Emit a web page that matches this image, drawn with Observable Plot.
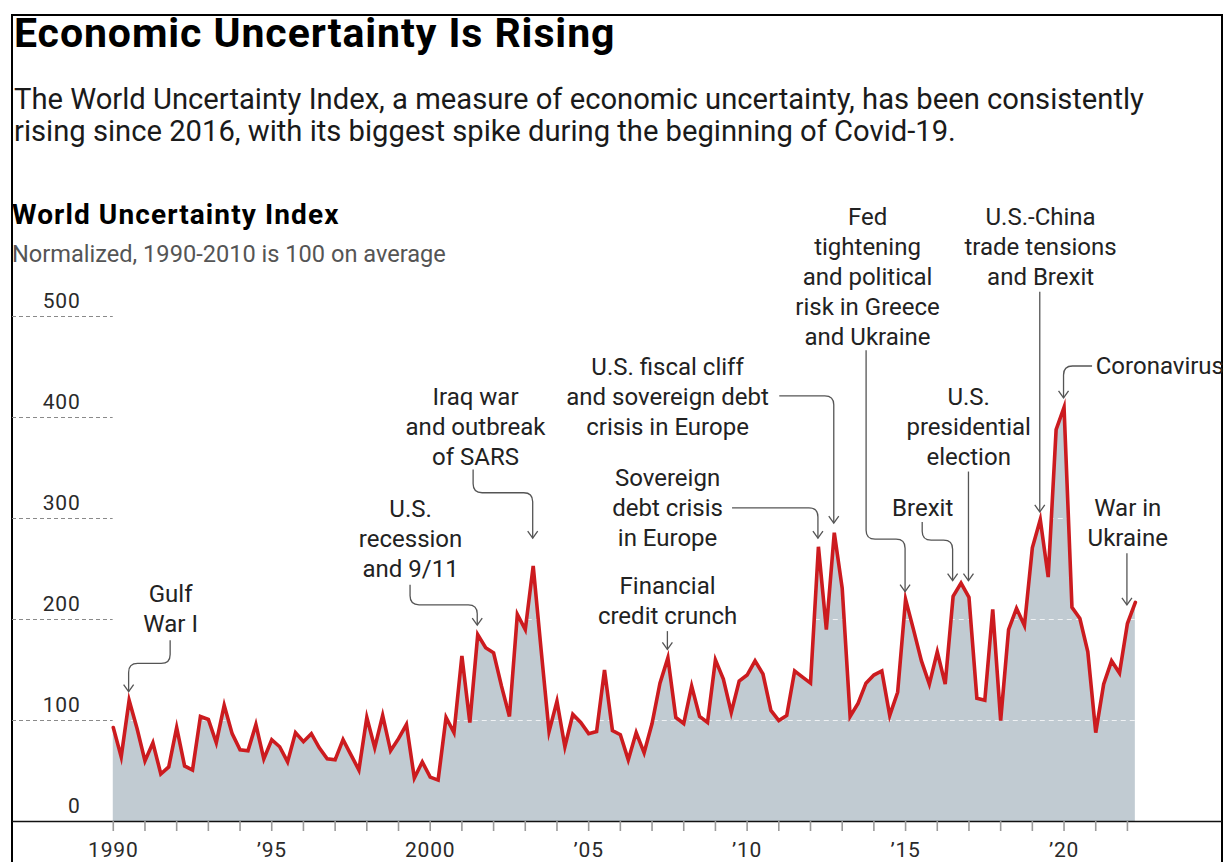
<!DOCTYPE html>
<html>
<head>
<meta charset="utf-8">
<script src="https://cdn.jsdelivr.net/npm/d3@7"></script>
<script src="https://cdn.jsdelivr.net/npm/@observablehq/plot@0.6"></script>
<style>
  html, body { margin: 0; padding: 0; background: #fff; }
  body { width: 1231px; height: 862px; position: relative; overflow: hidden; font-family: "Roboto", sans-serif; color: #111; }
  #frame { position: absolute; left: 11px; top: 14px; width: 1212px; height: 900px; box-sizing: border-box;
           border: 2px solid #000; border-bottom: none; }
  .abs { position: absolute; white-space: nowrap; }
  #title { left: 14px; top: 13px; font-size: 41px; line-height: 40px; font-weight: 700; color: #000; letter-spacing: 0.92px; }
  #subtitle { left: 14px; top: 83px; font-size: 29.2px; line-height: 32px; color: #1a1a1a; }
  #ctitle { left: 12px; top: 200px; font-size: 28px; line-height: 30px; font-weight: 700; color: #000; letter-spacing: 1.1px; z-index: 2; }
  #csub { left: 12px; top: 240px; font-size: 23.6px; line-height: 28px; color: #555; z-index: 2; }
  #chart { position: absolute; left: 0; top: 190px; z-index: 1; }
  #chart svg g[aria-label="y-axis tick label"] text,
  #chart svg g[aria-label="x-axis tick label"] text { letter-spacing: 0.8px; }
</style>
</head>
<body>
<div id="frame"></div>
<div id="title" class="abs">Economic Uncertainty Is Rising</div>
<div id="subtitle" class="abs">The World Uncertainty Index, a measure of economic uncertainty, has been consistently<br>rising since 2016, with its biggest spike during the beginning of Covid-19.</div>
<div id="chart"></div>
<div id="ctitle" class="abs">World Uncertainty Index</div>
<div id="csub" class="abs">Normalized, 1990-2010 is 100 on average</div>
<script>
// Quarterly World Uncertainty Index, 1990 Q1 – 2022 Q2
const startYear = 1990;
const values = [
  93, 64, 120, 92,    // 1990
  60, 78, 47, 54,     // 1991
  93, 55, 51, 104,    // 1992
  101, 78, 115, 87,   // 1993
  71, 70, 96, 62,     // 1994
  81, 74, 59, 88,     // 1995
  79, 87, 73, 62,     // 1996
  61, 81, 66, 51,     // 1997
  103, 73, 105, 70,   // 1998
  82, 96, 43, 59,     // 1999
  44, 41, 103, 88,    // 2000
  164, 98, 185, 172,  // 2001
  167, 134, 104, 205, // 2002
  190, 253, 170, 89,  // 2003
  119, 74, 106, 98,   // 2004
  87, 89, 150, 90,    // 2005
  86, 61, 88, 68,     // 2006
  97, 137, 162, 103,  // 2007
  97, 134, 104, 98,   // 2008
  160, 141, 108, 139, // 2009
  145, 159, 146, 110, // 2010
  100, 105, 149, 143, // 2011
  137, 272, 190, 286, // 2012
  231, 104, 117, 137, // 2013
  145, 149, 105, 128, // 2014
  220, 190, 159, 136, // 2015
  168, 136, 223, 236, // 2016
  222, 122, 120, 210, // 2017
  100, 190, 211, 194, // 2018
  271, 299, 242, 388, // 2019
  410, 212, 201, 168, // 2020
  88, 136, 159, 147,  // 2021
  196, 217            // 2022
];

const yTicks = [0, 100, 200, 300, 400, 500];
const outerGrid = [100, 200, 300, 400, 500];
const innerGrid = [100, 200, 300, 400];
const tickYears = d3.range(1990, 2023);
const labelYears = [1990, 1995, 2000, 2005, 2010, 2015, 2020];
const yearLabel = y => (y % 100 === 0 || y === 1990) ? String(y) : "\u2019" + String(y).slice(2);

const annotations = [
  {x: 1991.81, y: 212, text: "Gulf\nWar I"},
  {x: 1999.38, y: 281, text: "U.S.\nrecession\nand 9/11"},
  {x: 2001.43, y: 392, text: "Iraq war\nand outbreak\nof SARS"},
  {x: 2007.49, y: 422, text: "U.S. fiscal cliff\nand sovereign debt\ncrisis in Europe"},
  {x: 2007.49, y: 312, text: "Sovereign\ndebt crisis\nin Europe"},
  {x: 2007.49, y: 220, text: "Financial\ncredit crunch"},
  {x: 2013.80, y: 541, text: "Fed\ntightening\nand political\nrisk in Greece\nand Ukraine"},
  {x: 2019.26, y: 570, text: "U.S.-China\ntrade tensions\nand Brexit"},
  {x: 2016.99, y: 392, text: "U.S.\npresidential\nelection"},
  {x: 2015.54, y: 312, text: "Brexit"},
  {x: 2022.01, y: 297, text: "War in\nUkraine"}
];
const startAnnotations = [
  {x: 2021.0, y: 451, text: "Coronavirus"}
];

// leader lines: [year, index value] waypoints, last point is arrow tip
const leaderPaths = [
  [[1991.81, 179], [1991.81, 156], [1990.5, 156], [1990.5, 128]],
  [[1999.38, 234], [1999.38, 214], [2001.5, 214], [2001.5, 194]],
  [[2001.37, 348], [2001.37, 325], [2003.25, 325], [2003.25, 280]],
  [[2011.03, 421], [2012.75, 421], [2012.75, 295]],
  [[2009.54, 310], [2012.25, 310], [2012.25, 280]],
  [[2007.5, 188], [2007.5, 170]],
  [[2013.77, 466], [2013.77, 279], [2015.0, 279], [2015.0, 227]],
  [[2019.25, 524], [2019.25, 306]],
  [[2020.9, 450.5], [2020.0, 450.5], [2020.0, 419]],
  [[2017.0, 346], [2017.0, 238]],
  [[2015.54, 296], [2015.54, 278], [2016.5, 278], [2016.5, 238]],
  [[2022.0, 265], [2022.0, 214]]
];

const data = values.map((v, i) => ({t: startYear + i / 4, v}));
const lastT = data[data.length - 1].t;
const xMin = 1986.82, xMax = 2025.0;

function leaderMark(index, scales) {
  const ns = "http://www.w3.org/2000/svg";
  const g = document.createElementNS(ns, "g");
  g.setAttribute("fill", "none");
  g.setAttribute("stroke", "#555");
  g.setAttribute("stroke-width", "1.3");
  const r = 9;
  for (const pts of leaderPaths) {
    const p = pts.map(([a, b]) => [scales.x(a), scales.y(b)]);
    let d = `M${p[0][0]},${p[0][1]}`;
    for (let i = 1; i < p.length - 1; i++) {
      const [x0, y0] = p[i - 1], [x1, y1] = p[i], [x2, y2] = p[i + 1];
      const l1 = Math.hypot(x1 - x0, y1 - y0), l2 = Math.hypot(x2 - x1, y2 - y1);
      const rr = Math.min(r, l1 / 2, l2 / 2);
      const ax = x1 - (x1 - x0) / l1 * rr, ay = y1 - (y1 - y0) / l1 * rr;
      const bx = x1 + (x2 - x1) / l2 * rr, by = y1 + (y2 - y1) / l2 * rr;
      d += `L${ax},${ay}Q${x1},${y1} ${bx},${by}`;
    }
    const [ex, ey] = p[p.length - 1];
    d += `L${ex},${ey}`;
    const path = document.createElementNS(ns, "path");
    path.setAttribute("d", d);
    g.appendChild(path);
    const [px, py] = p[p.length - 2];
    const len = Math.hypot(ex - px, ey - py);
    const ux = (ex - px) / len, uy = (ey - py) / len;
    const hl = 7, hw = 5;
    const head = document.createElementNS(ns, "path");
    head.setAttribute("d",
      `M${ex - ux * hl - uy * hw},${ey - uy * hl + ux * hw}L${ex},${ey}L${ex - ux * hl + uy * hw},${ey - uy * hl - ux * hw}`);
    g.appendChild(head);
  }
  return g;
}

const chart = Plot.plot({
  width: 1231,
  height: 672,
  marginLeft: 12,
  marginRight: 9,
  marginTop: 126,
  marginBottom: 41,
  x: {domain: [xMin, xMax], axis: null},
  y: {domain: [0, 500], axis: null},
  style: {fontFamily: "Roboto, sans-serif", fontSize: "21px", background: "transparent", overflow: "visible"},
  marks: [
    Plot.ruleY(outerGrid, {x1: xMin, x2: startYear, stroke: "#8a8a8a", strokeWidth: 1, strokeDasharray: "4,3"}),
    Plot.areaY(data, {x: "t", y: "v", fill: "#c1cbd2"}),
    Plot.ruleY(innerGrid, {x1: startYear, x2: lastT, stroke: "#ffffff", strokeOpacity: 0.75, strokeWidth: 1, strokeDasharray: "5,4"}),
    Plot.lineY(data, {x: "t", y: "v", stroke: "#cc1b1f", strokeWidth: 3.6, strokeLinejoin: "miter", strokeMiterlimit: 6}),
    Plot.ruleY([0], {stroke: "#111", strokeWidth: 1.6}),
    Plot.axisX(tickYears, {tickSize: 10, stroke: "#9a9a9a", strokeWidth: 1.6, tickFormat: () => "", label: null}),
    Plot.axisX(labelYears, {tickSize: 0, tickPadding: 21, tickFormat: yearLabel, fontSize: 21, fill: "#2a2a2a", label: null}),
    Plot.axisY(yTicks, {anchor: "left", tickSize: 0, tickPadding: 0, dx: 68, dy: -15, fontSize: 21, fill: "#2a2a2a", label: null}),
    leaderMark,
    Plot.text(annotations, {x: "x", y: "y", text: "text", fontSize: 24, lineHeight: 1.25, fill: "#222"}),
    Plot.text(startAnnotations, {x: "x", y: "y", text: "text", fontSize: 24, fill: "#222", textAnchor: "start"})
  ]
});
document.getElementById("chart").appendChild(chart);
</script>
</body>
</html>
